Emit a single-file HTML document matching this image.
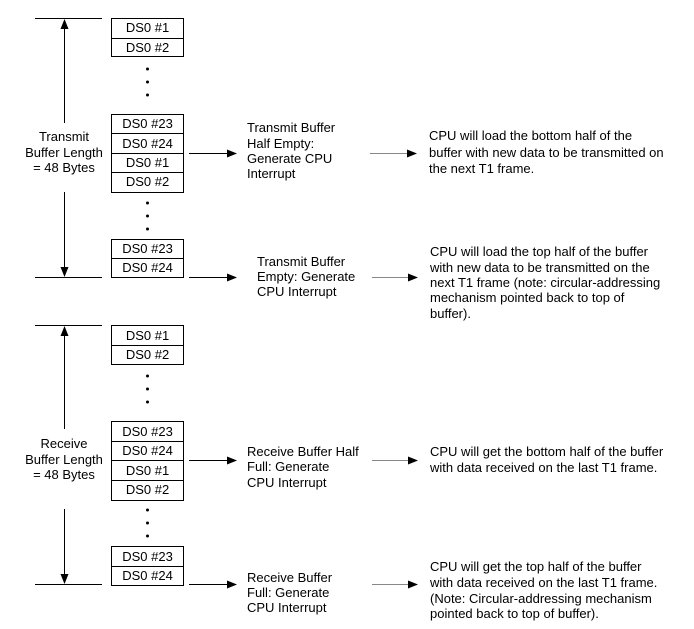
<!DOCTYPE html>
<html><head><style>body{margin:0;background:#fff}svg{display:block}text{font-family:"Liberation Sans",Arial,sans-serif;font-size:13px;fill:#000}</style></head><body>
<svg width="694" height="629" viewBox="0 0 694 629" xmlns="http://www.w3.org/2000/svg">
<defs>
<marker id="a" markerWidth="10" markerHeight="8" refX="9" refY="4" orient="auto" markerUnits="userSpaceOnUse"><path d="M0,0L10,4L0,8z" fill="#000"/></marker>
</defs>
<g stroke="#000" stroke-width="1" fill="none">
<line x1="35" y1="18.5" x2="102" y2="18.5"/><line x1="35" y1="277.5" x2="102" y2="277.5"/>
<line x1="64.5" y1="123" x2="64.5" y2="20" marker-end="url(#a)"/>
<line x1="64.5" y1="192" x2="64.5" y2="276" marker-end="url(#a)"/>
<rect x="111.5" y="18.5" width="72" height="38"/><line x1="111" y1="38.5" x2="184" y2="38.5"/>
<rect x="111.5" y="114.5" width="72" height="78"/><line x1="111" y1="133.5" x2="184" y2="133.5"/><line x1="111" y1="153.5" x2="184" y2="153.5"/><line x1="111" y1="172.5" x2="184" y2="172.5"/>
<rect x="111.5" y="239.5" width="72" height="38"/><line x1="111" y1="258.5" x2="184" y2="258.5"/>
<line x1="189" y1="153.5" x2="236" y2="153.5" marker-end="url(#a)"/>
<line x1="189" y1="277.5" x2="236" y2="277.5" marker-end="url(#a)"/>
<line x1="370" y1="153.5" x2="416" y2="153.5" stroke="#888" marker-end="url(#a)"/>
<line x1="372" y1="277.5" x2="417" y2="277.5" stroke="#888" marker-end="url(#a)"/>
<line x1="35" y1="325.5" x2="102" y2="325.5"/><line x1="35" y1="584.5" x2="102" y2="584.5"/>
<line x1="64.5" y1="429" x2="64.5" y2="327" marker-end="url(#a)"/>
<line x1="64.5" y1="509" x2="64.5" y2="583" marker-end="url(#a)"/>
<rect x="111.5" y="325.5" width="72" height="39"/><line x1="111" y1="345.5" x2="184" y2="345.5"/>
<rect x="111.5" y="421.5" width="72" height="79"/><line x1="111" y1="441.5" x2="184" y2="441.5"/><line x1="111" y1="460.5" x2="184" y2="460.5"/><line x1="111" y1="480.5" x2="184" y2="480.5"/>
<rect x="111.5" y="546.5" width="72" height="39"/><line x1="111" y1="566.5" x2="184" y2="566.5"/>
<line x1="189" y1="460.5" x2="236" y2="460.5" marker-end="url(#a)"/>
<line x1="189" y1="584.5" x2="236" y2="584.5" marker-end="url(#a)"/>
<line x1="372" y1="460.5" x2="417" y2="460.5" stroke="#888" marker-end="url(#a)"/>
<line x1="372" y1="584.5" x2="417" y2="584.5" stroke="#888" marker-end="url(#a)"/>
</g>
<g fill="#000">
<circle cx="147.5" cy="69" r="1.5"/><circle cx="147.5" cy="82" r="1.5"/><circle cx="147.5" cy="95" r="1.5"/>
<circle cx="147.5" cy="203" r="1.5"/><circle cx="147.5" cy="216" r="1.5"/><circle cx="147.5" cy="229" r="1.5"/>
<circle cx="147.5" cy="376" r="1.5"/><circle cx="147.5" cy="389" r="1.5"/><circle cx="147.5" cy="402" r="1.5"/>
<circle cx="147.5" cy="510" r="1.5"/><circle cx="147.5" cy="523" r="1.5"/><circle cx="147.5" cy="536" r="1.5"/>
</g>
<g text-anchor="middle" style="font-size:11px">
<text x="147.5" y="32">DS0 #1</text><text x="147.5" y="52">DS0 #2</text>
<text x="147.5" y="128">DS0 #23</text><text x="147.5" y="148">DS0 #24</text><text x="147.5" y="167">DS0 #1</text><text x="147.5" y="186">DS0 #2</text>
<text x="147.5" y="253">DS0 #23</text><text x="147.5" y="272">DS0 #24</text>
<text x="147.5" y="340">DS0 #1</text><text x="147.5" y="359">DS0 #2</text>
<text x="147.5" y="436">DS0 #23</text><text x="147.5" y="455">DS0 #24</text><text x="147.5" y="475">DS0 #1</text><text x="147.5" y="494">DS0 #2</text>
<text x="147.5" y="561">DS0 #23</text><text x="147.5" y="580">DS0 #24</text>
</g>
<g text-anchor="middle">
<text x="64" y="141">Transmit</text><text x="64" y="157">Buffer Length</text><text x="64" y="172">= 48 Bytes</text>
<text x="64" y="448">Receive</text><text x="64" y="464">Buffer Length</text><text x="64" y="479">= 48 Bytes</text>
</g>
<g>
<text x="247" y="132">Transmit Buffer</text><text x="247" y="148">Half Empty:</text><text x="247" y="163">Generate CPU</text><text x="247" y="178">Interrupt</text>
<text x="429" y="140">CPU will load the bottom half of the</text><text x="429" y="157">buffer with new data to be transmitted on</text><text x="429" y="173">the next T1 frame.</text>
<text x="257" y="266">Transmit Buffer</text><text x="257" y="281">Empty: Generate</text><text x="257" y="296">CPU Interrupt</text>
<text x="430" y="256">CPU will load the top half of the buffer</text><text x="430" y="272">with new data to be transmitted on the</text><text x="430" y="287">next T1 frame (note: circular-addressing</text><text x="430" y="302">mechanism pointed back to top of</text><text x="430" y="318">buffer).</text>
<text x="247" y="456">Receive Buffer Half</text><text x="247" y="471">Full: Generate</text><text x="247" y="487">CPU Interrupt</text>
<text x="430" y="456">CPU will get the bottom half of the buffer</text><text x="430" y="472">with data received on the last T1 frame.</text>
<text x="247" y="582">Receive Buffer</text><text x="247" y="597">Full: Generate</text><text x="247" y="612">CPU Interrupt</text>
<text x="430" y="571">CPU will get the top half of the buffer</text><text x="430" y="587">with data received on the last T1 frame.</text><text x="430" y="603">(Note: Circular-addressing mechanism</text><text x="430" y="618">pointed back to top of buffer).</text>
</g>
</svg>
</body></html>
